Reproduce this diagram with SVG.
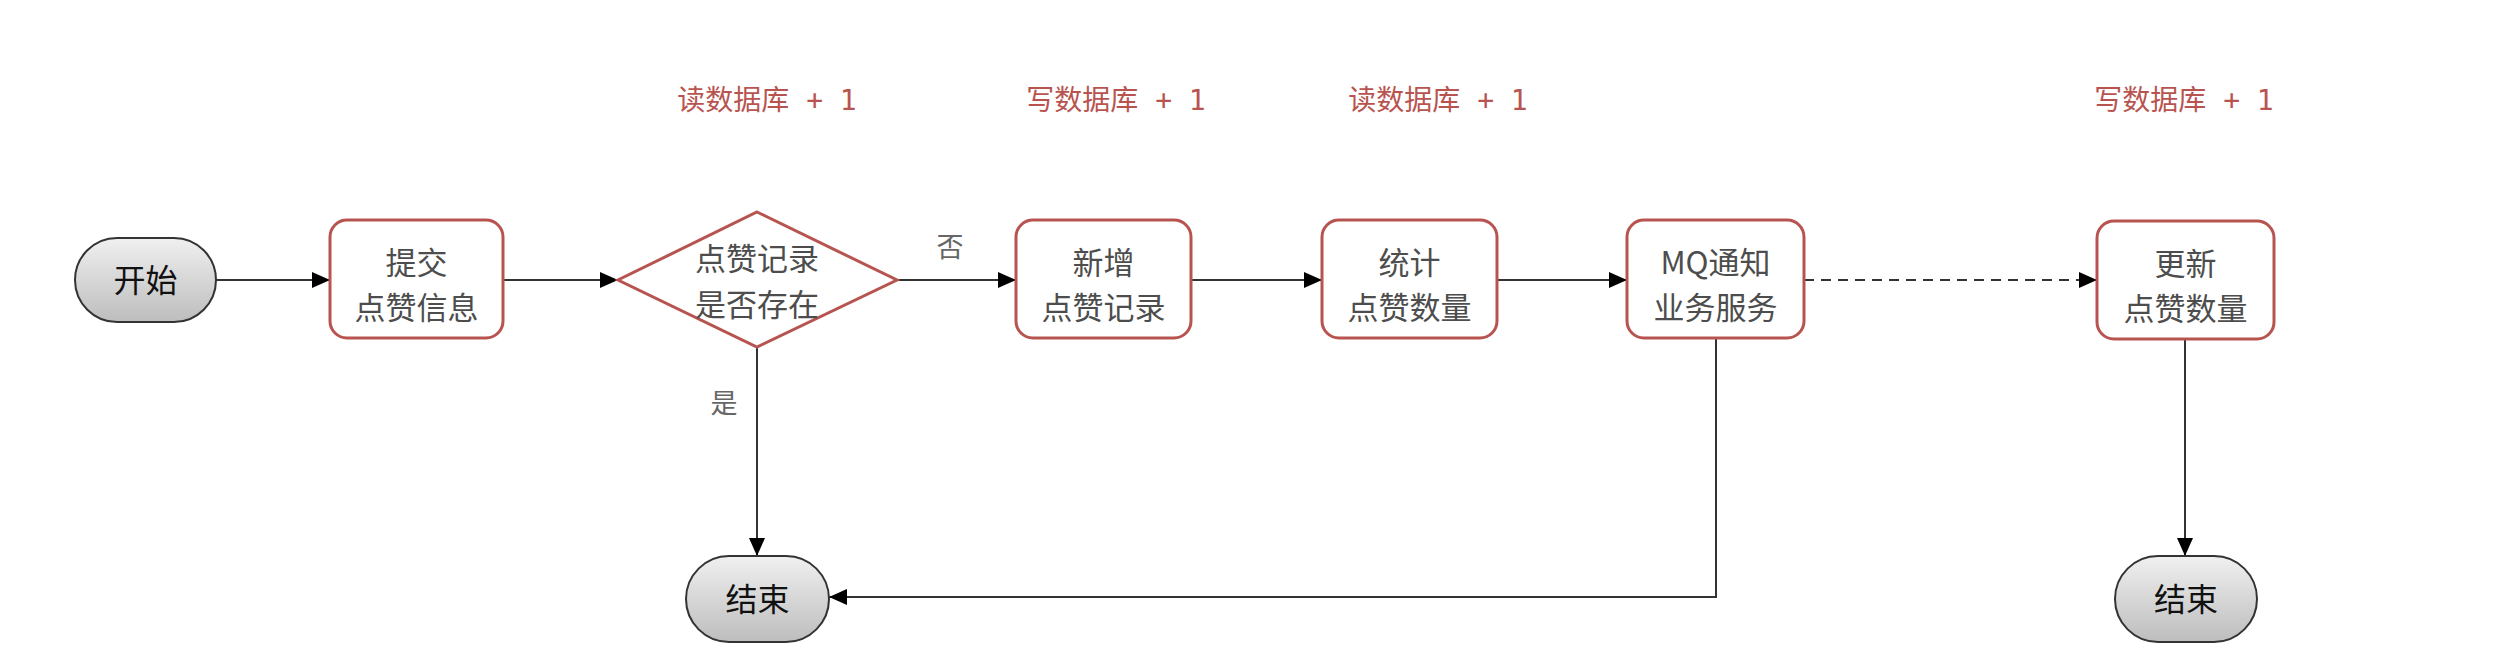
<svg xmlns="http://www.w3.org/2000/svg" width="2497" height="668" viewBox="0 0 2497 668">
<defs>
  <linearGradient id="gray" x1="0" y1="0" x2="0" y2="1">
    <stop offset="0" stop-color="#f0f0f0"/>
    <stop offset="1" stop-color="#bdbdbd"/>
  </linearGradient>
  <marker id="arr" viewBox="0 0 18 16" refX="18" refY="8" markerWidth="18" markerHeight="16" markerUnits="userSpaceOnUse" orient="auto">
    <path d="M0,0 L18,8 L0,16 Z" fill="#000"/>
  </marker>
  <style>
    .box { fill: #fff; stroke: #b85450; stroke-width: 3; }
    .term { fill: url(#gray); stroke: #333; stroke-width: 2; }
    .nt { font-family: "Noto Sans CJK SC", "Noto Sans", sans-serif; font-size: 31px; fill: #4d4d4d; text-anchor: middle; }
    .tt { font-family: "Noto Sans CJK SC", "Noto Sans", sans-serif; font-size: 32px; fill: #111; text-anchor: middle; }
    .lbl { font-family: "DejaVu Sans Mono", "Noto Sans CJK SC", monospace; font-size: 28px; fill: #b85450; text-anchor: middle; }
    .el { font-family: "Noto Sans CJK SC", "Noto Sans", sans-serif; font-size: 27px; fill: #666; text-anchor: middle; }
    .c { fill: none; stroke: #333; stroke-width: 2; }
    .d { stroke-dasharray: 10 7; }
  </style>
</defs>
<rect width="2497" height="668" fill="#fff"/>

<g id="labels">
  <text class="lbl" x="767" y="110">读数据库 + 1</text>
  <text class="lbl" x="1116" y="110">写数据库 + 1</text>
  <text class="lbl" x="1438" y="110">读数据库 + 1</text>
  <text class="lbl" x="2184" y="110">写数据库 + 1</text>
</g>

<g id="connectors">
  <path class="c" d="M216,280 L330,280" marker-end="url(#arr)"/>
  <path class="c" d="M503,280 L618,280" marker-end="url(#arr)"/>
  <path class="c" d="M897,280 L1016,280" marker-end="url(#arr)"/>
  <path class="c" d="M1191,280 L1322,280" marker-end="url(#arr)"/>
  <path class="c" d="M1497,280 L1627,280" marker-end="url(#arr)"/>
  <path class="c d" d="M1804,280 L2097,280" marker-end="url(#arr)"/>
  <path class="c" d="M757,347 L757,556" marker-end="url(#arr)"/>
  <path class="c" d="M1716,338 L1716,597 L829,597" marker-end="url(#arr)"/>
  <path class="c" d="M2185,339 L2185,556" marker-end="url(#arr)"/>
  <text class="el" x="950" y="257">否</text>
  <text class="el" x="724" y="413">是</text>
</g>

<g id="start">
  <rect class="term" x="75" y="238" width="141" height="84" rx="42" ry="42"/>
  <text class="tt" x="145.5" y="292">开始</text>
</g>

<g id="submit">
  <rect class="box" x="330" y="220" width="173" height="118" rx="17" ry="17"/>
  <text class="nt"><tspan x="416.5" y="273.5">提交</tspan><tspan x="416.5" y="319">点赞信息</tspan></text>
</g>

<g id="decision">
  <polygon class="box" points="757,212 897,280 757,347 618,280"/>
  <text class="nt"><tspan x="757" y="270">点赞记录</tspan><tspan x="757" y="315.5">是否存在</tspan></text>
</g>

<g id="add">
  <rect class="box" x="1016" y="220" width="175" height="118" rx="17" ry="17"/>
  <text class="nt"><tspan x="1103.5" y="273.5">新增</tspan><tspan x="1103.5" y="319">点赞记录</tspan></text>
</g>

<g id="count">
  <rect class="box" x="1322" y="220" width="175" height="118" rx="17" ry="17"/>
  <text class="nt"><tspan x="1409.5" y="273.5">统计</tspan><tspan x="1409.5" y="319">点赞数量</tspan></text>
</g>

<g id="mq">
  <rect class="box" x="1627" y="220" width="177" height="118" rx="17" ry="17"/>
  <text class="nt"><tspan x="1715.5" y="273.5">MQ通知</tspan><tspan x="1715.5" y="319">业务服务</tspan></text>
</g>

<g id="update">
  <rect class="box" x="2097" y="221" width="177" height="118" rx="17" ry="17"/>
  <text class="nt"><tspan x="2185.5" y="274.5">更新</tspan><tspan x="2185.5" y="320">点赞数量</tspan></text>
</g>

<g id="end1">
  <rect class="term" x="686" y="556" width="143" height="86" rx="43" ry="43"/>
  <text class="tt" x="757.5" y="611">结束</text>
</g>

<g id="end2">
  <rect class="term" x="2115" y="556" width="142" height="86" rx="43" ry="43"/>
  <text class="tt" x="2186" y="611">结束</text>
</g>
</svg>
